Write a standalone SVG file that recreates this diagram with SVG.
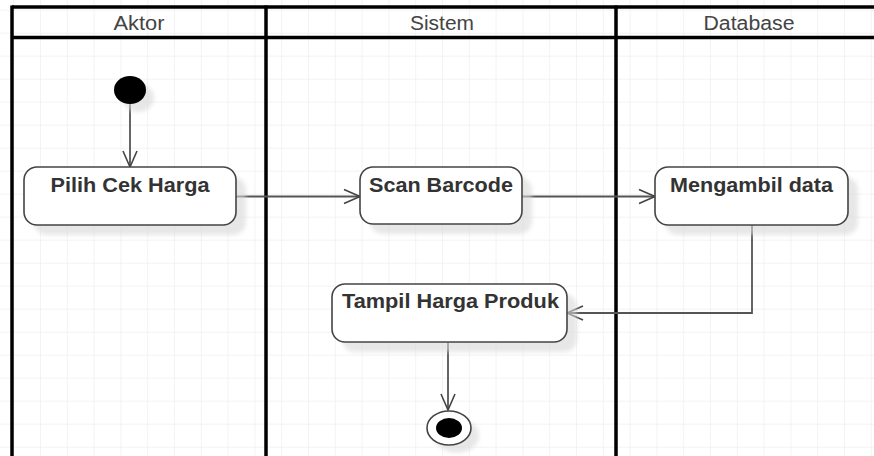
<svg xmlns="http://www.w3.org/2000/svg" width="874" height="456" viewBox="0 0 874 456">
  <defs>
    <pattern id="grid" x="13.2" y="9.7" width="26.8" height="23" patternUnits="userSpaceOnUse">
      <path d="M0 0 V23 M0 0 H26.8" fill="none" stroke="#efefef" stroke-width="1.5"/>
    </pattern>
    <filter id="blur" x="-20%" y="-20%" width="140%" height="140%">
      <feGaussianBlur stdDeviation="2"/>
    </filter>
    <marker id="open" viewBox="0 0 20 20" refX="18" refY="10" markerWidth="20" markerHeight="20" markerUnits="userSpaceOnUse" orient="auto">
      <path d="M2 3 L18 10 L2 17" fill="none" stroke="#444" stroke-width="1.6"/>
    </marker>
  </defs>
  <style>
    .lane { stroke: #000; stroke-width: 3.5; fill: none; }
    .hdr { font-family: "Liberation Sans", Arial, sans-serif; font-size: 19.5px; fill: #444; text-anchor: middle; }
    .box { fill: #fff; stroke: #444; stroke-width: 1.6; }
    .shadow { fill: #d8d8d8; opacity: 0.6; filter: url(#blur); }
    .lbl { font-family: "Liberation Sans", Arial, sans-serif; font-size: 19.5px; font-weight: bold; fill: #333; text-anchor: middle; }
    .edge { fill: none; stroke: #555; stroke-width: 1.8; marker-end: url(#open); }
  </style>
  <rect width="874" height="456" fill="#fff"/>
  <rect width="874" height="456" fill="url(#grid)"/>

  <g id="swimlanes">
    <line class="lane" x1="12" y1="7" x2="874" y2="7"/>
    <line class="lane" x1="12" y1="37.5" x2="874" y2="37.5"/>
    <line class="lane" x1="12" y1="5.5" x2="12" y2="456"/>
    <line class="lane" x1="266" y1="5.5" x2="266" y2="456"/>
    <line class="lane" x1="616" y1="5.5" x2="616" y2="456"/>
    <text class="hdr" x="139" y="30" textLength="51" lengthAdjust="spacingAndGlyphs">Aktor</text>
    <text class="hdr" x="442" y="30" textLength="64" lengthAdjust="spacingAndGlyphs">Sistem</text>
    <text class="hdr" x="749" y="30" textLength="91" lengthAdjust="spacingAndGlyphs">Database</text>
  </g>

  <g id="connectors">
    <line class="edge" x1="130" y1="104" x2="130" y2="167"/>
    <line class="edge" x1="236" y1="196.5" x2="360" y2="196.5"/>
    <line class="edge" x1="522" y1="196.5" x2="655" y2="196.5"/>
    <polyline class="edge" points="752,225 752,313 567,313"/>
    <line class="edge" x1="448" y1="342" x2="448" y2="410"/>
  </g>

  <g id="start">
    <ellipse class="shadow" cx="138" cy="98" rx="16" ry="14"/>
    <ellipse cx="130" cy="90" rx="16" ry="14" fill="#000"/>
  </g>

  <g id="pilih-cek-harga">
    <rect class="shadow" x="34" y="177" width="212" height="58" rx="13"/>
    <rect class="box" x="24" y="167" width="212" height="58" rx="13"/>
    <text class="lbl" x="130" y="192" textLength="159" lengthAdjust="spacingAndGlyphs">Pilih Cek Harga</text>
  </g>

  <g id="scan-barcode">
    <rect class="shadow" x="370" y="177" width="162" height="57" rx="13"/>
    <rect class="box" x="360" y="167" width="162" height="57" rx="13"/>
    <text class="lbl" x="441" y="192" textLength="144" lengthAdjust="spacingAndGlyphs">Scan Barcode</text>
  </g>

  <g id="mengambil-data">
    <rect class="shadow" x="665" y="177" width="193" height="58" rx="13"/>
    <rect class="box" x="655" y="167" width="193" height="58" rx="13"/>
    <text class="lbl" x="751.5" y="192" textLength="163" lengthAdjust="spacingAndGlyphs">Mengambil data</text>
  </g>

  <g id="tampil-harga-produk">
    <rect class="shadow" x="342" y="294" width="235" height="58" rx="13"/>
    <rect class="box" x="332" y="284" width="235" height="58" rx="13"/>
    <text class="lbl" x="450.5" y="308" textLength="217" lengthAdjust="spacingAndGlyphs">Tampil Harga Produk</text>
  </g>

  <g id="end">
    <ellipse class="shadow" cx="457" cy="436" rx="22" ry="17"/>
    <ellipse cx="449" cy="428" rx="22" ry="17" fill="#fff" stroke="#444" stroke-width="1.6"/>
    <ellipse cx="449" cy="428" rx="13" ry="10" fill="#000"/>
  </g>
</svg>
